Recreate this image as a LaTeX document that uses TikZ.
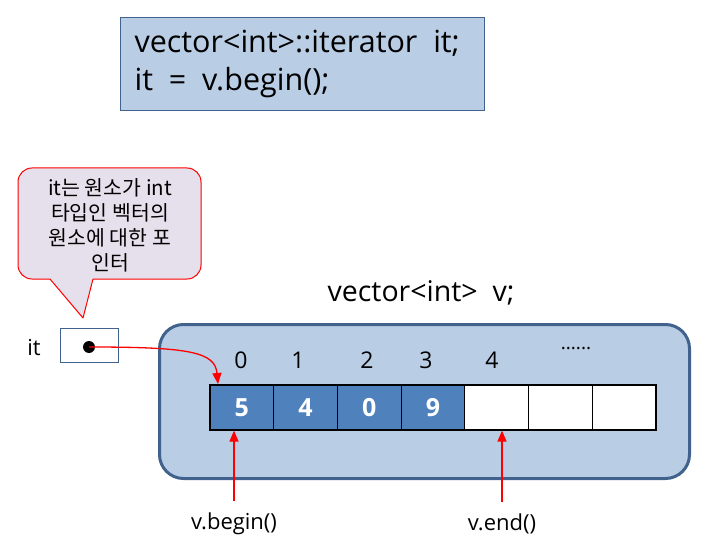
\documentclass[tikz,border=0pt]{standalone}
\usepackage{fontspec}
\setmainfont{Open Sans}
\newfontfamily\kr{Noto Sans CJK KR}
\usetikzlibrary{positioning, calc, arrows.meta}

\definecolor{boxblue}{RGB}{185,205,229}
\definecolor{cellblue}{RGB}{79,129,189}
\definecolor{edgeblue}{RGB}{65,98,140}
\definecolor{noteback}{RGB}{230,224,236}

\tikzset{
  cell/.style={draw=black, line width=1.2pt, minimum width=63.7pt, minimum height=45pt, inner sep=0pt},
  full/.style={cell, fill=cellblue, text=white, font=\fontsize{25}{26}\selectfont\bfseries},
  idx/.style={font=\fontsize{23}{24}\selectfont},
  ptr/.style={red, line width=1.3pt, -{Triangle[length=11pt,width=9pt]}},
  lbl/.style={font=\fontsize{22}{24}\selectfont}
}

\begin{document}
\begin{tikzpicture}[x=1pt, y=-1pt]
\useasboundingbox (0,0) rectangle (715,559);

% code box
\node (code) [draw=edgeblue, fill=boxblue, line width=1pt, minimum width=364pt, minimum height=93pt, anchor=north west, inner sep=0pt] at (120,17) {};
\node [anchor=west, align=left, font=\fontsize{30.5}{38}\selectfont] at (131,64) {vector<int>::iterator\ \ it;\\it\ \ =\ \ v.begin();};

% note
\draw [red, fill=noteback, line width=1pt, rounded corners=14pt]
  (50,279) -- (18,279) -- (18,168) -- (201,168) -- (201,279) -- (93,279);
\fill [noteback] (50,278) -- (83,318) -- (93,278) -- cycle;
\draw [red, line width=1pt, line join=round] (50,279) -- (83,318) -- (93,279);
\node (note) [align=center, font=\kr\fontsize{20.5}{25}\selectfont] at (110,225) {it는 원소가 int\\타입인 벡터의\\원소에 대한 포\\인터};

% iterator
\node (itlbl) [lbl] at (34,348) {it};
\node (itbox) [draw=edgeblue, fill=white, line width=1pt, minimum width=58pt, minimum height=34pt, inner sep=0pt] at (89,345) {};
\node (dot) [circle, fill=black, inner sep=0pt, minimum size=12pt] at (89,347) {};

% vector
\node (vec) [draw=edgeblue, fill=boxblue, line width=3pt, rounded corners=24pt, minimum width=530pt, minimum height=154pt, anchor=north west, inner sep=0pt] at (158,323) {};
\node (vname) [font=\fontsize{28.5}{30}\selectfont] at (421,293) {vector<int>\ \ v;};

\foreach \v [count=\i from 0] in {5,4,0,9}
  \node (c\i) [full] at ({241.85+63.7*\i},407.5) {\v};
\foreach \i in {4,5,6}
  \node (c\i) [cell, fill=white] at ({241.85+63.7*\i},407.5) {};

\foreach \t/\x in {0/241,1/298,2/367,3/426,4/492}
  \node [idx] at (\x,360) {\t};
\node [font=\fontsize{19}{16}\selectfont] at (576,349) {......};

% pointers
\coordinate (hit) at (218,384);
\draw [ptr] (dot.center) .. controls (190,347) and (215,352) .. (hit);

\node (beg) [lbl] at (234,524) {v.begin()};
\node (end) [lbl] at (502,524) {v.end()};
\draw [ptr] ($(beg.north)+(0,-8)$) -- (beg.north |- c0.south);
\draw [ptr] ($(end.north)+(0,-8)$) -- (end.north |- c4.south);

\end{tikzpicture}
\end{document}
